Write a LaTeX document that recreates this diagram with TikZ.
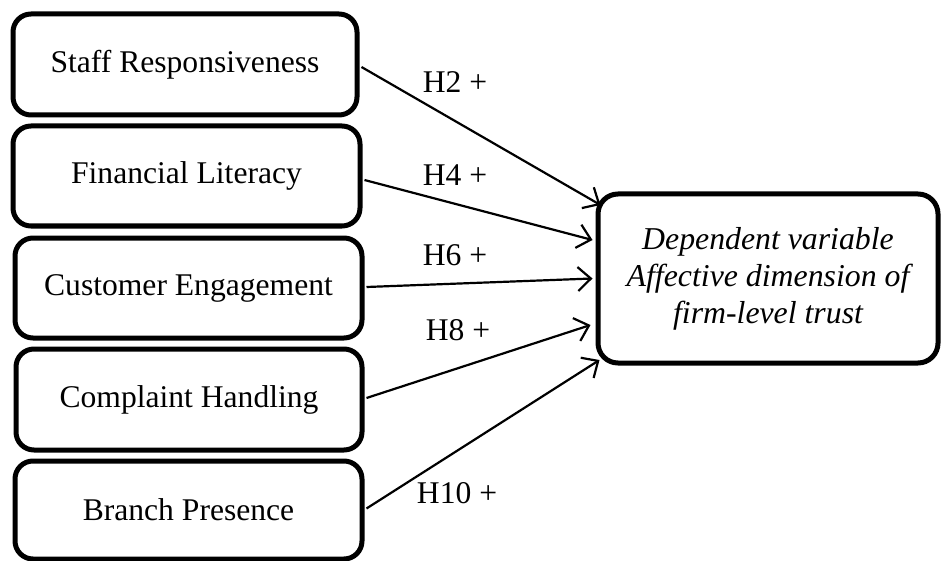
\documentclass[tikz,border=0pt]{standalone}
\usepackage{fontspec}
\setmainfont{Liberation Serif}
\usetikzlibrary{arrows.meta,calc}

\begin{document}
\begin{tikzpicture}[x=1pt,y=-1pt,
  factor/.style={draw,line width=5pt,rounded corners=18pt,
    minimum width=#1,minimum height=100pt,inner sep=0pt,
    font=\fontsize{31.6}{37}\selectfont},
  outcome/.style={draw,line width=5pt,rounded corners=20pt,
    minimum width=340pt,minimum height=169pt,inner sep=0pt,align=center,
    font=\fontsize{31.8}{37}\selectfont\itshape},
  hyp/.style={font=\fontsize{31.6}{37}\selectfont,inner sep=0pt},
  link/.style={line width=2.2pt,-{Straight Barb[length=13pt,width=24pt,line width=2.2pt]}}]

  \useasboundingbox (0,0) rectangle (941,561);

  % predictor constructs
  \node[factor=344pt,minimum height=101pt] (sr) at (185,64.5) {Staff Responsiveness};
  \node[factor=347pt] (fl) at (186.5,176) {Financial Literacy};
  \node[factor=347pt] (ce) at (188.5,288) {Customer Engagement};
  \node[factor=346pt,minimum height=101pt] (ch) at (189,399.5) {Complaint Handling};
  \node[factor=347pt,minimum height=98pt] (bp) at (188.5,510) {Branch Presence};

  % outcome construct
  \node[outcome] (dv) at (768,278.5)
    {Dependent variable\\Affective dimension of\\firm-level trust};

  % end points of the hypothesised paths on the outcome box
  \coordinate (e2)  at ($(dv.west)+(5,-73.5)$);
  \coordinate (e4)  at ($(dv.west)+(-3,-38.5)$);
  \coordinate (e6)  at ($(dv.west)+(-3,0)$);
  \coordinate (e8)  at ($(dv.west)+(-5,46.5)$);
  \coordinate (e10) at ($(dv.west)+(4,81.5)$);

  \draw[link] ($(sr.east)+(2,2.5)$) -- (e2);
  \draw[link] ($(fl.east)+(2,4)$) -- (e4);
  \draw[link] ($(ce.east)+(2,-1)$) -- (e6);
  \draw[link] ($(ch.east)+(2,-1.5)$) -- (e8);
  \draw[link] ($(bp.east)+(2,-1.5)$) -- (e10);

  % hypothesis labels
  \node[hyp] (h2)  at (455,82)  {H2 +};
  \node[hyp] (h4)  at (455,175) {H4 +};
  \node[hyp] (h6)  at (455,255) {H6 +};
  \node[hyp] (h8)  at (458,330) {H8 +};
  \node[hyp] (h10) at (457,493) {H10 +};
\end{tikzpicture}
\end{document}
